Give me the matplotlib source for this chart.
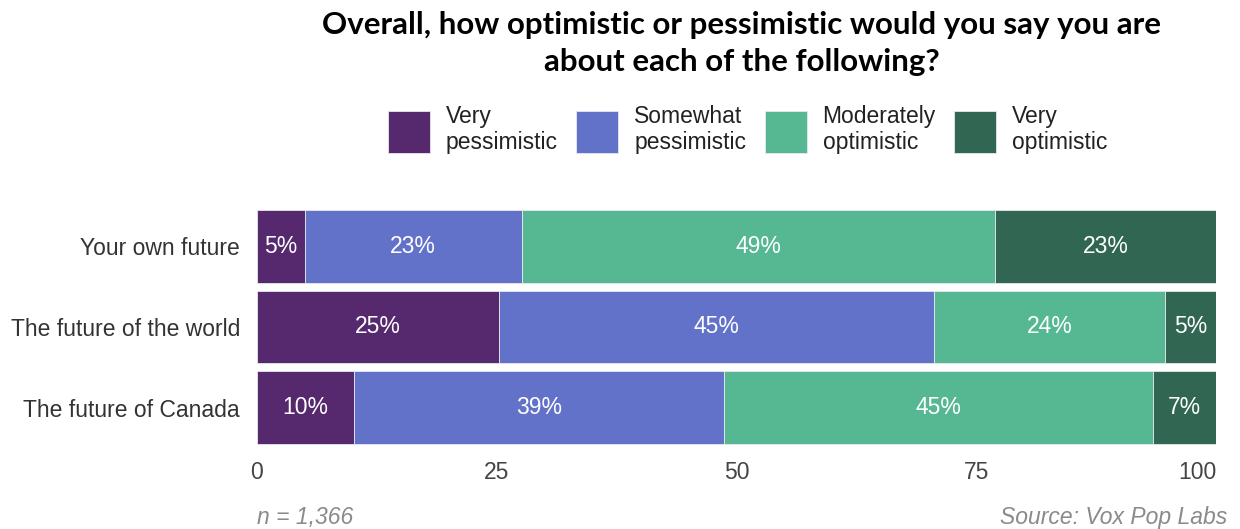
import numpy as np
import matplotlib.pyplot as plt

categories = ["Your own future", "The future of the world", "The future of Canada"]
responses = ["Very\npessimistic", "Somewhat\npessimistic", "Moderately\noptimistic", "Very\noptimistic"]
very_pess = [5.0, 25.2, 10.1]
somewhat_pess = [22.6, 45.4, 38.6]
moderately_opt = [49.3, 24.0, 44.7]
very_opt = [23.1, 5.4, 6.6]
colors = ["#56286e", "#6272c8", "#56b892", "#316653"]
xticks = [0, 25, 50, 75, 100]


def main():
    plt.rcParams["font.family"] = ["Liberation Sans", "DejaVu Sans"]
    fig = plt.figure(figsize=(12.4, 5.29), dpi=100)
    ax = fig.add_axes([0.207, 0.153, 0.774, 0.458])

    series = [very_pess, somewhat_pess, moderately_opt, very_opt]
    y = np.arange(len(categories))
    left = np.zeros(len(categories))
    handles = []
    for vals, col, name in zip(series, colors, responses):
        vals = np.asarray(vals)
        bars = ax.barh(y, vals, left=left, height=0.9, color=col,
                       edgecolor="#e8e8f0", linewidth=0.6, label=name)
        handles.append(bars)
        for yi, l, v in zip(y, left, vals):
            ax.text(l + v / 2, yi, f"{round(v)}%", ha="center", va="center",
                    color="white", fontsize=16.5)
        left = left + vals

    ax.set_xlim(0, 100)
    ax.set_ylim(2.5, -0.5)
    ax.set_yticks(y)
    ax.set_yticklabels(categories, fontsize=16.5, color="#333333")
    ax.set_xticks(xticks)
    labs = ax.set_xticklabels([str(t) for t in xticks], fontsize=16.5,
                              color="#444444",
                              family=["Liberation Sans Narrow", "Liberation Sans"])
    labs[-1].set_ha("right")
    ax.tick_params(length=0)
    ax.tick_params(axis="x", pad=9)
    ax.tick_params(axis="y", pad=12)
    for s in ax.spines.values():
        s.set_visible(False)

    fig.text(0.598, 0.953, "Overall, how optimistic or pessimistic would you say you are",
             ha="center", va="center", fontsize=22.5, fontweight="bold",
             family=["Lato", "DejaVu Sans"], color="black")
    fig.text(0.598, 0.882, "about each of the following?",
             ha="center", va="center", fontsize=22.5, fontweight="bold",
             family=["Lato", "DejaVu Sans"], color="black")

    fig.legend(handles=handles, labels=responses, ncol=4, loc="center",
               bbox_to_anchor=(0.603, 0.755), frameon=False, fontsize=16.5,
               handlelength=1.83, handleheight=2.44, handletextpad=0.7,
               columnspacing=0.8, labelcolor="#222222")

    fig.text(0.207, 0.022, "n = 1,366", ha="left", va="center", fontsize=16.5,
             style="italic", color="#8a8a8a")
    fig.text(0.990, 0.022, "Source: Vox Pop Labs", ha="right", va="center",
             fontsize=16.5, style="italic", color="#8a8a8a")

    fig.savefig("out.png", dpi=100)


if __name__ == "__main__":
    main()
